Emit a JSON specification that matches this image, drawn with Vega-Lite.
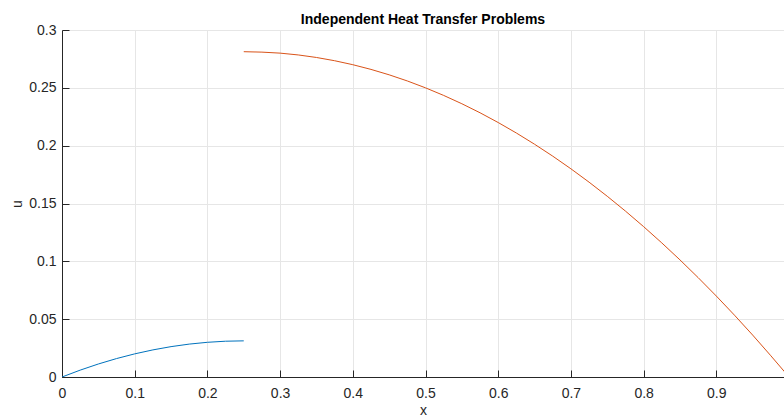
{
  "$schema": "https://vega.github.io/schema/vega-lite/v6.json",
  "autosize": {"type": "none"},
  "width": 722,
  "height": 347,
  "padding": {"left": 62, "top": 30, "right": 0, "bottom": 39},
  "background": "white",
  "title": {
    "text": "Independent Heat Transfer Problems",
    "font": "Liberation Sans",
    "fontSize": 14,
    "fontWeight": "bold",
    "color": "#000000",
    "anchor": "middle",
    "offset": -4
  },
  "config": {
    "view": {"stroke": null},
    "axis": {
      "labelFont": "Liberation Sans",
      "labelFontSize": 14,
      "labelColor": "#262626",
      "labelFlush": false,
      "titleFont": "Liberation Sans",
      "titleFontSize": 14,
      "titleFontWeight": "normal",
      "titleColor": "#262626",
      "domainColor": "#262626",
      "tickColor": "#262626",
      "gridColor": "#e6e6e6",
      "gridOpacity": 1
    }
  },
  "data": {
    "values": [
      {"x": 0, "u": 0, "s": "a"},
      {"x": 0.025, "u": 0.0059375, "s": "a"},
      {"x": 0.05, "u": 0.01125, "s": "a"},
      {"x": 0.075, "u": 0.0159375, "s": "a"},
      {"x": 0.1, "u": 0.02, "s": "a"},
      {"x": 0.125, "u": 0.0234375, "s": "a"},
      {"x": 0.15, "u": 0.02625, "s": "a"},
      {"x": 0.175, "u": 0.0284375, "s": "a"},
      {"x": 0.2, "u": 0.03, "s": "a"},
      {"x": 0.225, "u": 0.0309375, "s": "a"},
      {"x": 0.25, "u": 0.03125, "s": "a"},
      {"x": 0.25, "u": 0.28125, "s": "b"},
      {"x": 0.3, "u": 0.28, "s": "b"},
      {"x": 0.35, "u": 0.27625, "s": "b"},
      {"x": 0.4, "u": 0.27, "s": "b"},
      {"x": 0.45, "u": 0.26125, "s": "b"},
      {"x": 0.5, "u": 0.25, "s": "b"},
      {"x": 0.55, "u": 0.23625, "s": "b"},
      {"x": 0.6, "u": 0.22, "s": "b"},
      {"x": 0.65, "u": 0.20125, "s": "b"},
      {"x": 0.7, "u": 0.18, "s": "b"},
      {"x": 0.75, "u": 0.15625, "s": "b"},
      {"x": 0.8, "u": 0.13, "s": "b"},
      {"x": 0.85, "u": 0.10125, "s": "b"},
      {"x": 0.9, "u": 0.07, "s": "b"},
      {"x": 0.95, "u": 0.03625, "s": "b"},
      {"x": 1.0, "u": 0, "s": "b"}
    ]
  },
  "mark": {"type": "line", "strokeWidth": 1, "clip": true, "interpolate": "monotone"},
  "encoding": {
    "x": {
      "field": "x",
      "type": "quantitative",
      "scale": {"domain": [0, 0.9931], "nice": false, "zero": false},
      "axis": {
        "title": "x",
        "values": [0, 0.1, 0.2, 0.3, 0.4, 0.5, 0.6, 0.7, 0.8, 0.9],
        "format": ".1~f",
        "tickSize": -7,
        "labelPadding": 16,
        "titlePadding": 3
      }
    },
    "y": {
      "field": "u",
      "type": "quantitative",
      "scale": {"domain": [0, 0.3], "nice": false},
      "axis": {
        "title": "u",
        "values": [0, 0.05, 0.1, 0.15, 0.2, 0.25, 0.3],
        "format": ".2~f",
        "tickSize": -7,
        "labelPadding": 13,
        "titlePadding": 4
      }
    },
    "color": {
      "field": "s",
      "type": "nominal",
      "scale": {"domain": ["a", "b"], "range": ["#0072BD", "#D95319"]},
      "legend": null
    }
  }
}
